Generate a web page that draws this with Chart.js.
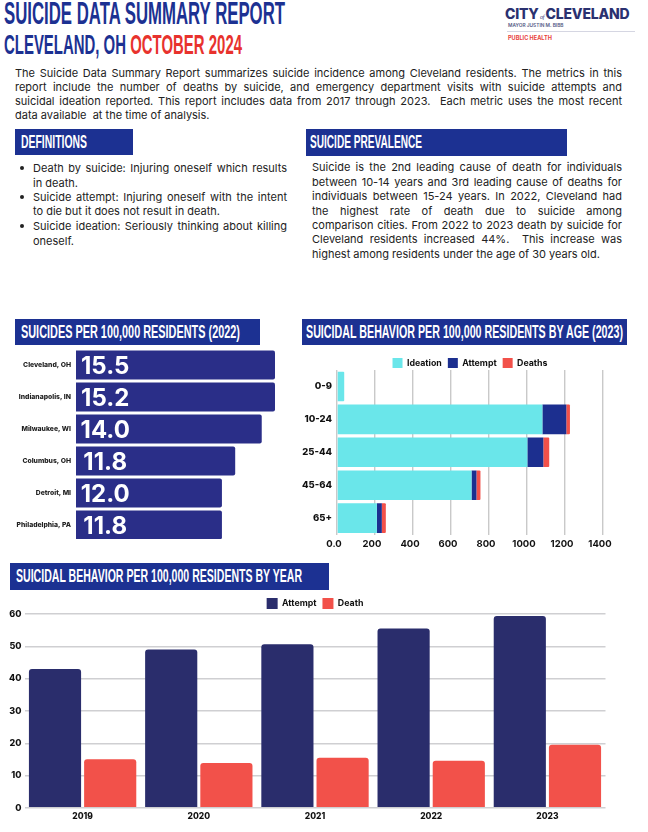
<!DOCTYPE html>
<html><head><meta charset="utf-8">
<script src="https://cdn.jsdelivr.net/npm/chart.js@4"></script>
<style>
html,body{margin:0;padding:0;background:#fff;}
body{position:relative;width:648px;height:832px;overflow:hidden;font-family:Inter,"Open Sans",sans-serif;color:#222;}
.abs{position:absolute;white-space:nowrap;}
.fit{transform-origin:left center;font-family:"Liberation Sans Narrow","Liberation Sans",sans-serif;font-weight:700;}
.box{position:absolute;background:#1c3192;}
.hd{color:#fff;font-size:18px;line-height:18px;}
.ln{position:absolute;font-size:11px;line-height:14px;height:14px;white-space:normal;text-align:justify;text-align-last:justify;}
.ln.l{text-align-last:left;white-space:nowrap;}
.dot{position:absolute;width:4px;height:4px;border-radius:50%;background:#222;left:20px;}
canvas{position:absolute;left:0;top:0;}
.wrap{position:absolute;overflow:hidden;}
</style></head>
<body>
<div class="abs fit" data-w="281" style="left:4px;top:-2px;font-size:31px;line-height:32px;color:#1c3192;">SUICIDE DATA SUMMARY REPORT</div>
<div class="abs fit" data-w="238" style="left:4px;top:29px;font-size:28px;line-height:32px;color:#1c3192;">CLEVELAND, OH <span style="color:#e8322d">OCTOBER 2024</span></div>

<div class="abs" id="logo" style="left:505px;top:5px;font:800 14px Inter,'Liberation Sans',sans-serif;color:#2a3170;letter-spacing:-.2px;">CITY<span style="font:italic 6px 'Liberation Serif',serif;"> of </span>CLEVELAND</div>
<div class="abs" style="left:508px;top:22px;font:600 4.8px Inter,sans-serif;color:#555a85;">MAYOR JUSTIN M. BIBB</div>
<div class="box" style="left:507px;top:31px;width:128px;height:1px;background:#d5d6e2;"></div>
<div class="abs" style="left:508px;top:35px;font:700 5.6px Inter,sans-serif;color:#e8423d;">PUBLIC HEALTH</div>

<div class="ln" style="left:15px;top:66px;width:607px;">The Suicide Data Summary Report summarizes suicide incidence among Cleveland residents. The metrics in this</div>
<div class="ln" style="left:15px;top:80px;width:607px;">report include the number of deaths by suicide, and emergency department visits with suicide attempts and</div>
<div class="ln" style="left:15px;top:94px;width:607px;">suicidal ideation reported. This report includes data from 2017 through 2023.&nbsp; Each metric uses the most recent</div>
<div class="ln l" style="left:15px;top:108px;width:607px;">data available&nbsp; at the time of analysis.</div>

<div class="box" style="left:15px;top:129px;width:118px;height:26px;"></div>
<div class="abs fit hd" data-w="66" style="left:21px;top:133px;">DEFINITIONS</div>
<div class="box" style="left:306px;top:129px;width:261px;height:27px;"></div>
<div class="abs fit hd" data-w="112" style="left:310px;top:133px;">SUICIDE PREVALENCE</div>

<div class="dot" style="top:166px;"></div>
<div class="ln" style="left:33px;top:161px;width:254px;">Death by suicide: Injuring oneself which results</div>
<div class="ln l" style="left:33px;top:176px;">in death.</div>
<div class="dot" style="top:195px;"></div>
<div class="ln" style="left:33px;top:190px;width:254px;">Suicide attempt: Injuring oneself with the intent</div>
<div class="ln l" style="left:33px;top:204px;">to die but it does not result in death.</div>
<div class="dot" style="top:224px;"></div>
<div class="ln" style="left:33px;top:219px;width:254px;">Suicide ideation: Seriously thinking about killing</div>
<div class="ln l" style="left:33px;top:234px;">oneself.</div>

<div class="ln" style="left:312px;top:160px;width:310px;">Suicide is the 2nd leading cause of death for individuals</div>
<div class="ln" style="left:312px;top:175px;width:310px;">between 10-14 years and 3rd leading cause of deaths for</div>
<div class="ln" style="left:312px;top:189px;width:310px;">individuals between 15-24 years. In 2022, Cleveland had</div>
<div class="ln" style="left:312px;top:204px;width:310px;">the highest rate of death due to suicide among</div>
<div class="ln" style="left:312px;top:218px;width:310px;">comparison cities. From 2022 to 2023 death by suicide for</div>
<div class="ln" style="left:312px;top:232px;width:310px;">Cleveland residents increased 44%.&nbsp; This increase was</div>
<div class="ln l" style="left:312px;top:247px;">highest among residents under the age of 30 years old.</div>

<div class="box" style="left:15px;top:319px;width:245px;height:26px;"></div>
<div class="abs fit hd" data-w="219" style="left:21px;top:323px;">SUICIDES PER 100,000 RESIDENTS (2022)</div>
<div class="box" style="left:302px;top:319px;width:325px;height:26px;"></div>
<div class="abs fit hd" data-w="317" style="left:306px;top:323px;">SUICIDAL BEHAVIOR PER 100,000 RESIDENTS BY AGE (2023)</div>
<div class="box" style="left:10px;top:563px;width:319px;height:27px;"></div>
<div class="abs fit hd" data-w="286" style="left:16px;top:567px;">SUICIDAL BEHAVIOR PER 100,000 RESIDENTS BY YEAR</div>

<div class="wrap" style="left:0;top:340px;width:300px;height:199px;"><canvas id="c1" width="300" height="210"></canvas></div>
<div class="wrap" style="left:302px;top:352px;width:336px;height:201px;"><canvas id="c2" width="336" height="201"></canvas></div>
<div class="wrap" style="left:0;top:592px;width:630px;height:234px;"><canvas id="c3" width="630" height="234"></canvas></div>

<script>
// Suicides per 100,000 (2022)
const cities = ["Cleveland, OH","Indianapolis, IN","Milwaukee, WI","Columbus, OH","Detroit, MI","Philadelphia, PA"];
const cityBars = [15,15,14,12,11,11];
const cityLabels = ["15.5","15.2","14.0","11.8","12.0","11.8"];

// Suicidal behavior by age (2023)
const ages = ["0-9","10-24","25-44","45-64","65+"];
const ageIdeation = [38,1081,1002,708,210];
const ageAttempt = [0,126,84,26,26];
const ageDeaths = [0,19,31,21,21];

// Suicidal behavior by year
const years = ["2019","2020","2021","2022","2023"];
const yearAttempt = [43,49,50.6,55.5,59.4];
const yearDeath = [15,13.9,15.5,14.6,19.5];

const NAVY1="#2a2e88", NAVY2="#1c2f8f", NAVY3="#2a2d6c", RED="#f2514a", CYAN="#6ae6ea";
const TF="Inter, 'Liberation Sans', sans-serif";
document.querySelectorAll('.fit').forEach(function(e){
  const w=+e.dataset.w, r=e.getBoundingClientRect().width;
  e.style.transform='scaleX('+(w/r)+')';
});
Chart.defaults.animation=false;
Chart.defaults.responsive=false;
Chart.defaults.devicePixelRatio=1;

// Trims the space the legend reserves so the plot sits close under it.
function legendTrim(n){return {id:'legendTrim',beforeUpdate(c){
  const l=c.legend; if(!l||l._trimmed)return;
  const f=l.fit; l.fit=function(){f.call(this);this.height-=n;}; l._trimmed=true;
}};}
function spacer(w){return {type:'linear',position:'right',afterFit(a){a.width=w;},grid:{display:false,drawTicks:false},border:{display:false},ticks:{display:false}};}

const barText={id:'barText',afterDatasetsDraw(c){
  const m=c.getDatasetMeta(0),x=c.ctx,s=c.scales.x;
  x.save();x.fillStyle='#fff';x.font='700 24px '+TF;x.textAlign='center';x.textBaseline='middle';
  m.data.forEach(function(b,i){x.fillText(cityLabels[i],s.getPixelForValue(2.2),b.y+2);});
  x.restore();
}};
new Chart(document.getElementById('c1'),{type:'bar',
  data:{labels:cities,datasets:[{data:cityBars,backgroundColor:NAVY1,borderRadius:2,barPercentage:.91,categoryPercentage:1}]},
  options:{indexAxis:'y',layout:{padding:{top:8.3,bottom:7.3,right:25}},
    plugins:{legend:{display:false},tooltip:{enabled:false}},
    scales:{x:{display:false,min:0,max:15},
      y:{afterFit(a){a.width=76;},grid:{display:false,drawTicks:false},border:{display:false},
         ticks:{padding:5,color:'#222',font:{family:TF,size:6.8,weight:'800'},autoSkip:false}}}},
  plugins:[barText]});

new Chart(document.getElementById('c2'),{type:'bar',
  data:{labels:ages,datasets:[
    {label:'Ideation',data:ageIdeation,backgroundColor:CYAN},
    {label:'Attempt',data:ageAttempt,backgroundColor:NAVY2},
    {label:'Deaths',data:ageDeaths,backgroundColor:RED}]},
  options:{indexAxis:'y',
    datasets:{bar:{barPercentage:.9,categoryPercentage:1,borderRadius:1}},
    plugins:{tooltip:{enabled:false},legend:{position:'top',labels:{boxWidth:10,boxHeight:10,padding:6,color:'#111',font:{family:TF,size:8.8,weight:'700'}}}},
    scales:{
      x:{stacked:true,min:0,max:1400,grid:{color:'#c9c9c9',lineWidth:1.4,drawTicks:false},border:{display:false},
         ticks:{stepSize:200,padding:3.5,labelOffset:-3,maxRotation:0,color:'#111',font:{family:TF,size:9.5,weight:'700'},callback(v){return v===0?'0.0':v;}}},
      y:{stacked:true,afterFit(a){a.width=35;},grid:{display:false,drawTicks:false},border:{display:false},
         ticks:{padding:5,color:'#111',font:{family:TF,size:9.5,weight:'800'}}},
      pad:spacer(35)}},
  plugins:[legendTrim(8)]});

new Chart(document.getElementById('c3'),{type:'bar',
  data:{labels:years,datasets:[
    {label:'Attempt',data:yearAttempt,backgroundColor:NAVY3},
    {label:'Death',data:yearDeath,backgroundColor:RED}]},
  options:{
    datasets:{bar:{barPercentage:.945,categoryPercentage:.95,borderRadius:{topLeft:3,topRight:3}}},
    plugins:{tooltip:{enabled:false},legend:{position:'top',labels:{boxWidth:11,boxHeight:11,padding:6,color:'#111',font:{family:TF,size:8.8,weight:'700'}}}},
    scales:{
      x:{grid:{display:false,drawTicks:false},border:{display:false},ticks:{padding:4,color:'#111',font:{family:TF,size:8.5,weight:'800'}}},
      y:{min:0,max:60,afterFit(a){a.width=24.5;},grid:{color:'#cfcfd2',lineWidth:1.4,drawTicks:false},border:{display:false},
         ticks:{stepSize:10,padding:3,color:'#111',font:{family:TF,size:9,weight:'800'}}},
      pad:spacer(24.5)}},
  plugins:[legendTrim(5)]});
</script>
</body></html>
